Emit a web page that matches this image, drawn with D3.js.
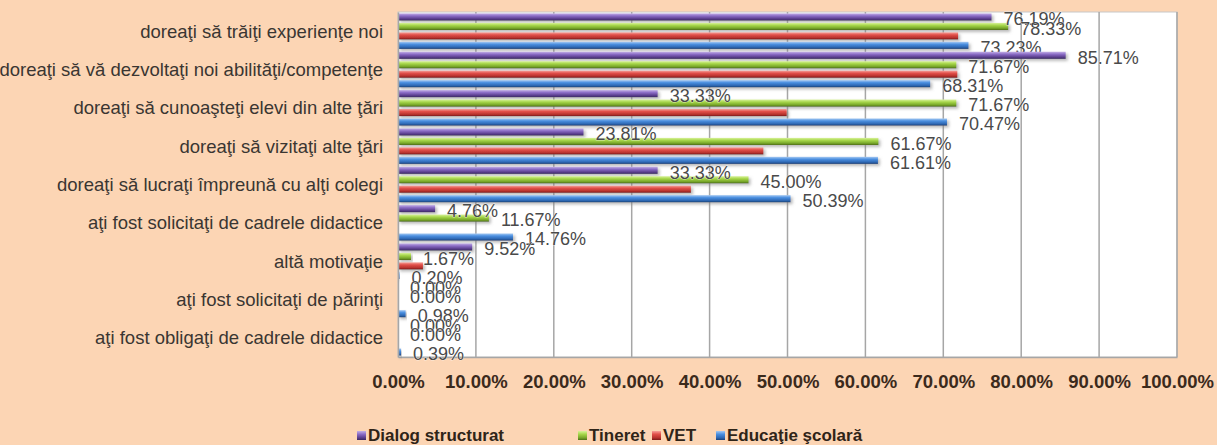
<!DOCTYPE html>
<html>
<head>
<meta charset="utf-8">
<script src="https://cdn.jsdelivr.net/npm/d3@7"></script>
<style>
  html, body { margin: 0; padding: 0; background: #fcd5b4; }
  svg { display: block; }
</style>
</head>
<body>
<svg id="chart" width="1217" height="445"></svg>
<script>
const categories = [
  "doreaţi să trăiţi experienţe noi",
  "doreaţi să vă dezvoltaţi noi abilităţi/competenţe",
  "doreaţi să cunoaşteţi elevi din alte ţări",
  "doreaţi să vizitaţi alte ţări",
  "doreaţi să lucraţi împreună cu alţi colegi",
  "aţi fost solicitaţi de cadrele didactice",
  "altă motivaţie",
  "aţi fost solicitaţi de părinţi",
  "aţi fost obligaţi de cadrele didactice"
];
const seriesNames = ["Dialog structurat", "Tineret", "VET", "Educaţie şcolară"];
const dialogStructurat = [76.19, 85.71, 33.33, 23.81, 33.33, 4.76, 9.52, 0.00, 0.00];
const tineret          = [78.33, 71.67, 71.67, 61.67, 45.00, 11.67, 1.67, 0.00, 0.00];
const vet              = [71.9, 71.8, 49.9, 46.9, 37.6, 0.0, 3.2, 0.0, 0.0];
const educatieScolara  = [73.23, 68.31, 70.47, 61.61, 50.39, 14.76, 0.20, 0.98, 0.39];
const showLabels = [true, true, false, true];
const xTicks = [0, 10, 20, 30, 40, 50, 60, 70, 80, 90, 100];

const seriesValues = [dialogStructurat, tineret, vet, educatieScolara];
const colors = [
  { light: "#c3b0e6", mid: "#8b6cc6", dark: "#5b3f8e", edge: "#3a2860" },
  { light: "#d8f29a", mid: "#a6d64a", dark: "#78a72a", edge: "#4d6e18" },
  { light: "#f5a09a", mid: "#e2504a", dark: "#b8322e", edge: "#7a1c1a" },
  { light: "#a6c9f2", mid: "#4a8fe0", dark: "#2f68b4", edge: "#1c4278" }
];

const svg = d3.select("#chart");
const plot = { left: 398, right: 1177, top: 12, bottom: 357 };

const defs = svg.append("defs");
colors.forEach((c, i) => {
  const g = defs.append("linearGradient").attr("id", "grad" + i)
    .attr("x1", 0).attr("y1", 0).attr("x2", 0).attr("y2", 1);
  g.append("stop").attr("offset", "0%").attr("stop-color", c.light);
  g.append("stop").attr("offset", "35%").attr("stop-color", c.mid);
  g.append("stop").attr("offset", "75%").attr("stop-color", c.dark);
  g.append("stop").attr("offset", "100%").attr("stop-color", c.edge);
});
const sh = defs.append("filter").attr("id", "shadow")
  .attr("x", "-5%").attr("y", "-50%").attr("width", "120%").attr("height", "250%");
sh.append("feDropShadow").attr("dx", 2).attr("dy", 2).attr("stdDeviation", 1.4)
  .attr("flood-color", "#808080").attr("flood-opacity", 0.55);

const x = d3.scaleLinear().domain([0, 100]).range([plot.left, plot.right]);
const y0 = d3.scaleBand().domain(categories).range([plot.top, plot.bottom]).padding(0);
const y1 = d3.scaleBand().domain(seriesNames).range([0, y0.bandwidth()])
  .paddingInner(0.25).paddingOuter(0.15);

// plot background
svg.append("rect")
  .attr("x", plot.left).attr("y", plot.top)
  .attr("width", plot.right - plot.left).attr("height", plot.bottom - plot.top)
  .attr("fill", "#ffffff").attr("stroke", "#c8c8c8").attr("stroke-width", 1);

// gridlines
svg.append("g").selectAll("line").data(xTicks.slice(1)).join("line")
  .attr("x1", d => x(d)).attr("x2", d => x(d))
  .attr("y1", plot.top).attr("y2", plot.bottom)
  .attr("stroke", "#a6a6a6").attr("stroke-width", 1.5);

// x axis
const xAxis = svg.append("g")
  .attr("transform", `translate(0,${plot.bottom})`)
  .call(d3.axisBottom(x).tickValues(xTicks).tickSize(0).tickPadding(18)
    .tickFormat(d => d.toFixed(2) + "%"));
xAxis.select(".domain").attr("stroke", "#a6a6a6").attr("stroke-width", 1.5);
xAxis.selectAll("text")
  .attr("font-family", "'Liberation Sans', Arial, sans-serif")
  .attr("font-weight", "bold").attr("font-size", "18.5px")
  .attr("fill", "#3b2a1c");

// bars
const groups = svg.append("g").selectAll("g").data(categories).join("g")
  .attr("transform", d => `translate(0,${y0(d)})`);

seriesNames.forEach((s, si) => {
  groups.append("rect")
    .attr("x", x(0))
    .attr("y", y1(s))
    .attr("width", (d, ci) => Math.max(0, x(seriesValues[si][ci]) - x(0)))
    .attr("height", y1.bandwidth())
    .attr("fill", `url(#grad${si})`)
    .attr("filter", "url(#shadow)");
});

// data labels
seriesNames.forEach((s, si) => {
  if (!showLabels[si]) return;
  groups.append("text")
    .attr("x", (d, ci) => x(seriesValues[si][ci]) + 12)
    .attr("y", y1(s) + y1.bandwidth() / 2 + 2)
    .attr("dy", "0.35em")
    .attr("font-family", "'Liberation Sans', Arial, sans-serif")
    .attr("font-size", "18px")
    .attr("fill", "#4a4a4a")
    .attr("stroke", "#ffffff").attr("stroke-width", 0.6).attr("paint-order", "stroke")
    .text((d, ci) => seriesValues[si][ci].toFixed(2) + "%");
});

// left axis (categories)
const yAxis = svg.append("g")
  .attr("transform", `translate(${plot.left},0)`)
  .call(d3.axisLeft(y0).tickSize(0).tickPadding(15));
yAxis.select(".domain").attr("stroke", "#a6a6a6").attr("stroke-width", 1.5);
yAxis.selectAll("text")
  .attr("font-family", "'Liberation Sans', Arial, sans-serif")
  .attr("font-size", "18.5px")
  .attr("fill", "#3a3632")
  .attr("dy", "0.35em");

// legend
const legendX = [357, 578, 652, 716];
const legend = svg.append("g").selectAll("g").data(seriesNames).join("g")
  .attr("transform", (d, i) => `translate(${legendX[i]},436)`);
legend.append("rect")
  .attr("x", 0).attr("y", -5).attr("width", 9).attr("height", 9)
  .attr("fill", (d, i) => `url(#grad${i})`);
legend.append("text")
  .attr("x", 11).attr("y", 5)
  .attr("font-family", "'Liberation Sans', Arial, sans-serif")
  .attr("font-weight", "bold").attr("font-size", "17px")
  .attr("fill", "#2f2418")
  .text(d => d);
</script>
</body>
</html>
